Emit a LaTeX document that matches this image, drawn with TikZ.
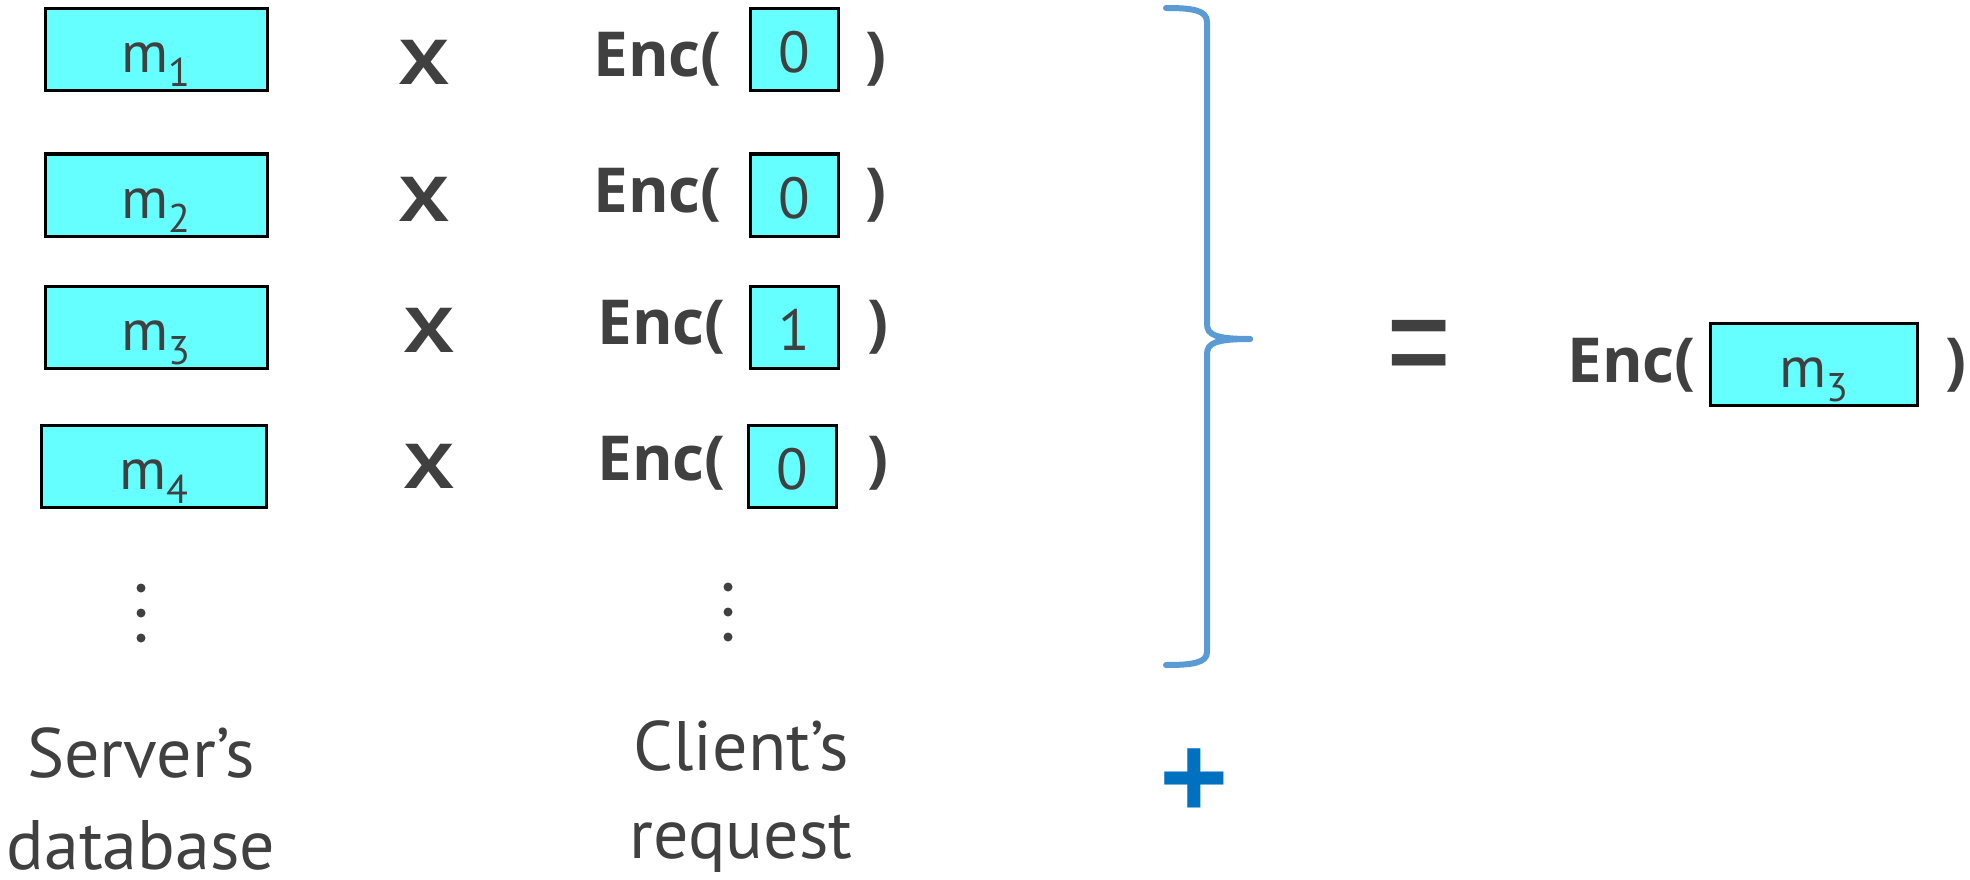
\documentclass[tikz,border=0pt]{standalone}
\usepackage{fontspec}
\setmainfont{PT Sans}
\newfontfamily\opfont{Open Sans}
\definecolor{ink}{HTML}{404040}
\definecolor{cellfill}{HTML}{66FFFF}
\definecolor{bracecol}{HTML}{5B9BD5}
\definecolor{pluscol}{HTML}{0070C0}
\newcommand{\fsz}[1]{\fontsize{#1}{#1}\selectfont}
\newcommand{\msub}[1]{m\raisebox{-14pt}{\fsz{40}#1}}
\newcommand{\timesX}{\scalebox{1.2}[1]{X}}
\tikzset{
  cell/.style={draw=black, line width=3pt, fill=cellfill, inner sep=0pt,
    text height=46pt, text depth=0pt, text=ink, font=\fsz{58}},
  wide/.style={cell, minimum width=222pt, minimum height=82pt},
  bit/.style={cell, minimum width=88pt, minimum height=82pt},
  op/.style={inner sep=0pt, text=ink, font=\opfont\bfseries\fsz{62}, anchor=base},
  dotmark/.style={circle, fill=ink, inner sep=0pt, minimum size=9pt},
  caption/.style={text=ink, align=center, inner sep=0pt, anchor=base, text depth=0pt}
}
\begin{document}
\begin{tikzpicture}[x=1pt, y=-1pt]
\useasboundingbox (0,0) rectangle (1970,880);

% server's database entries
\node[wide] (m1) at (156,50)  {\msub{1}};
\node[wide] (m2) at (156,195) {\msub{2}};
\node[wide] (m3) at (156,327) {\msub{3}};
\node[wide, minimum width=225pt] (m4) at (154,466) {\msub{4}};

% multiplication signs
\node[op] (x1) at (424,85)  {\timesX};
\node[op] (x2) at (424,221) {\timesX};
\node[op] (x3) at (429,352) {\timesX};
\node[op] (x4) at (429,488) {\timesX};

% encrypted selection bits
\node[op, anchor=base east] (enc1) at (722,77)  {Enc(};
\node[op, anchor=base east] (enc2) at (722,212) {Enc(};
\node[op, anchor=base east] (enc3) at (726,344) {Enc(};
\node[op, anchor=base east] (enc4) at (726,480) {Enc(};

\node[bit] (b1) at (794,50)  {0};
\node[bit] (b2) at (794,195) {0};
\node[bit] (b3) at (794,327) {1};
\node[bit] (b4) at (792,466) {0};

\node[op] (c1) at (876,77)  {)};
\node[op] (c2) at (876,212) {)};
\node[op] (c3) at (878,344) {)};
\node[op] (c4) at (878,480) {)};

% vertical ellipses
\node[dotmark] (dl1) at (141,588) {};
\node[dotmark] (dl2) at (141,613) {};
\node[dotmark] (dl3) at (141,638) {};
\node[dotmark] (dr1) at (728,587) {};
\node[dotmark] (dr2) at (728,612) {};
\node[dotmark] (dr3) at (728,637) {};

% column captions (anchored on the baseline of the last line)
\node[caption, font=\fontsize{70}{92}\selectfont] (srv) at (141,869) {Server’s\\database};
\node[caption, font=\fontsize{70}{88}\selectfont] (cli) at (741,858) {Client’s\\request};

% summing brace
\coordinate (tip) at (1250,339);
\draw[bracecol, line width=6pt, line cap=round]
  (1166,8) .. controls (1192,8) and (1207,10) .. (1207,22) -- (1207,324)
  .. controls (1207,335) and (1216,339) .. (tip);
\draw[bracecol, line width=6pt, line cap=round]
  (tip) .. controls (1216,339) and (1207,343) .. (1207,354) -- (1207,652)
  .. controls (1207,663) and (1192,665) .. (1166,665);
\node[text=pluscol, font=\opfont\bfseries\fsz{122}, inner sep=0pt] (plus) at (1194,785) {+};

% result
\node[text=ink, font=\opfont\fsz{118}, inner sep=0pt] (eq) at (1419,361.5) {\scalebox{1}[1.45]{=}};
\node[op, anchor=base east] (encr) at (1696,382) {Enc(};
\node[cell, minimum width=207pt, minimum height=82pt] (mr) at (1814,364.5) {\msub{3}};
\node[op] (cr) at (1956,382) {)};
\end{tikzpicture}
\end{document}
